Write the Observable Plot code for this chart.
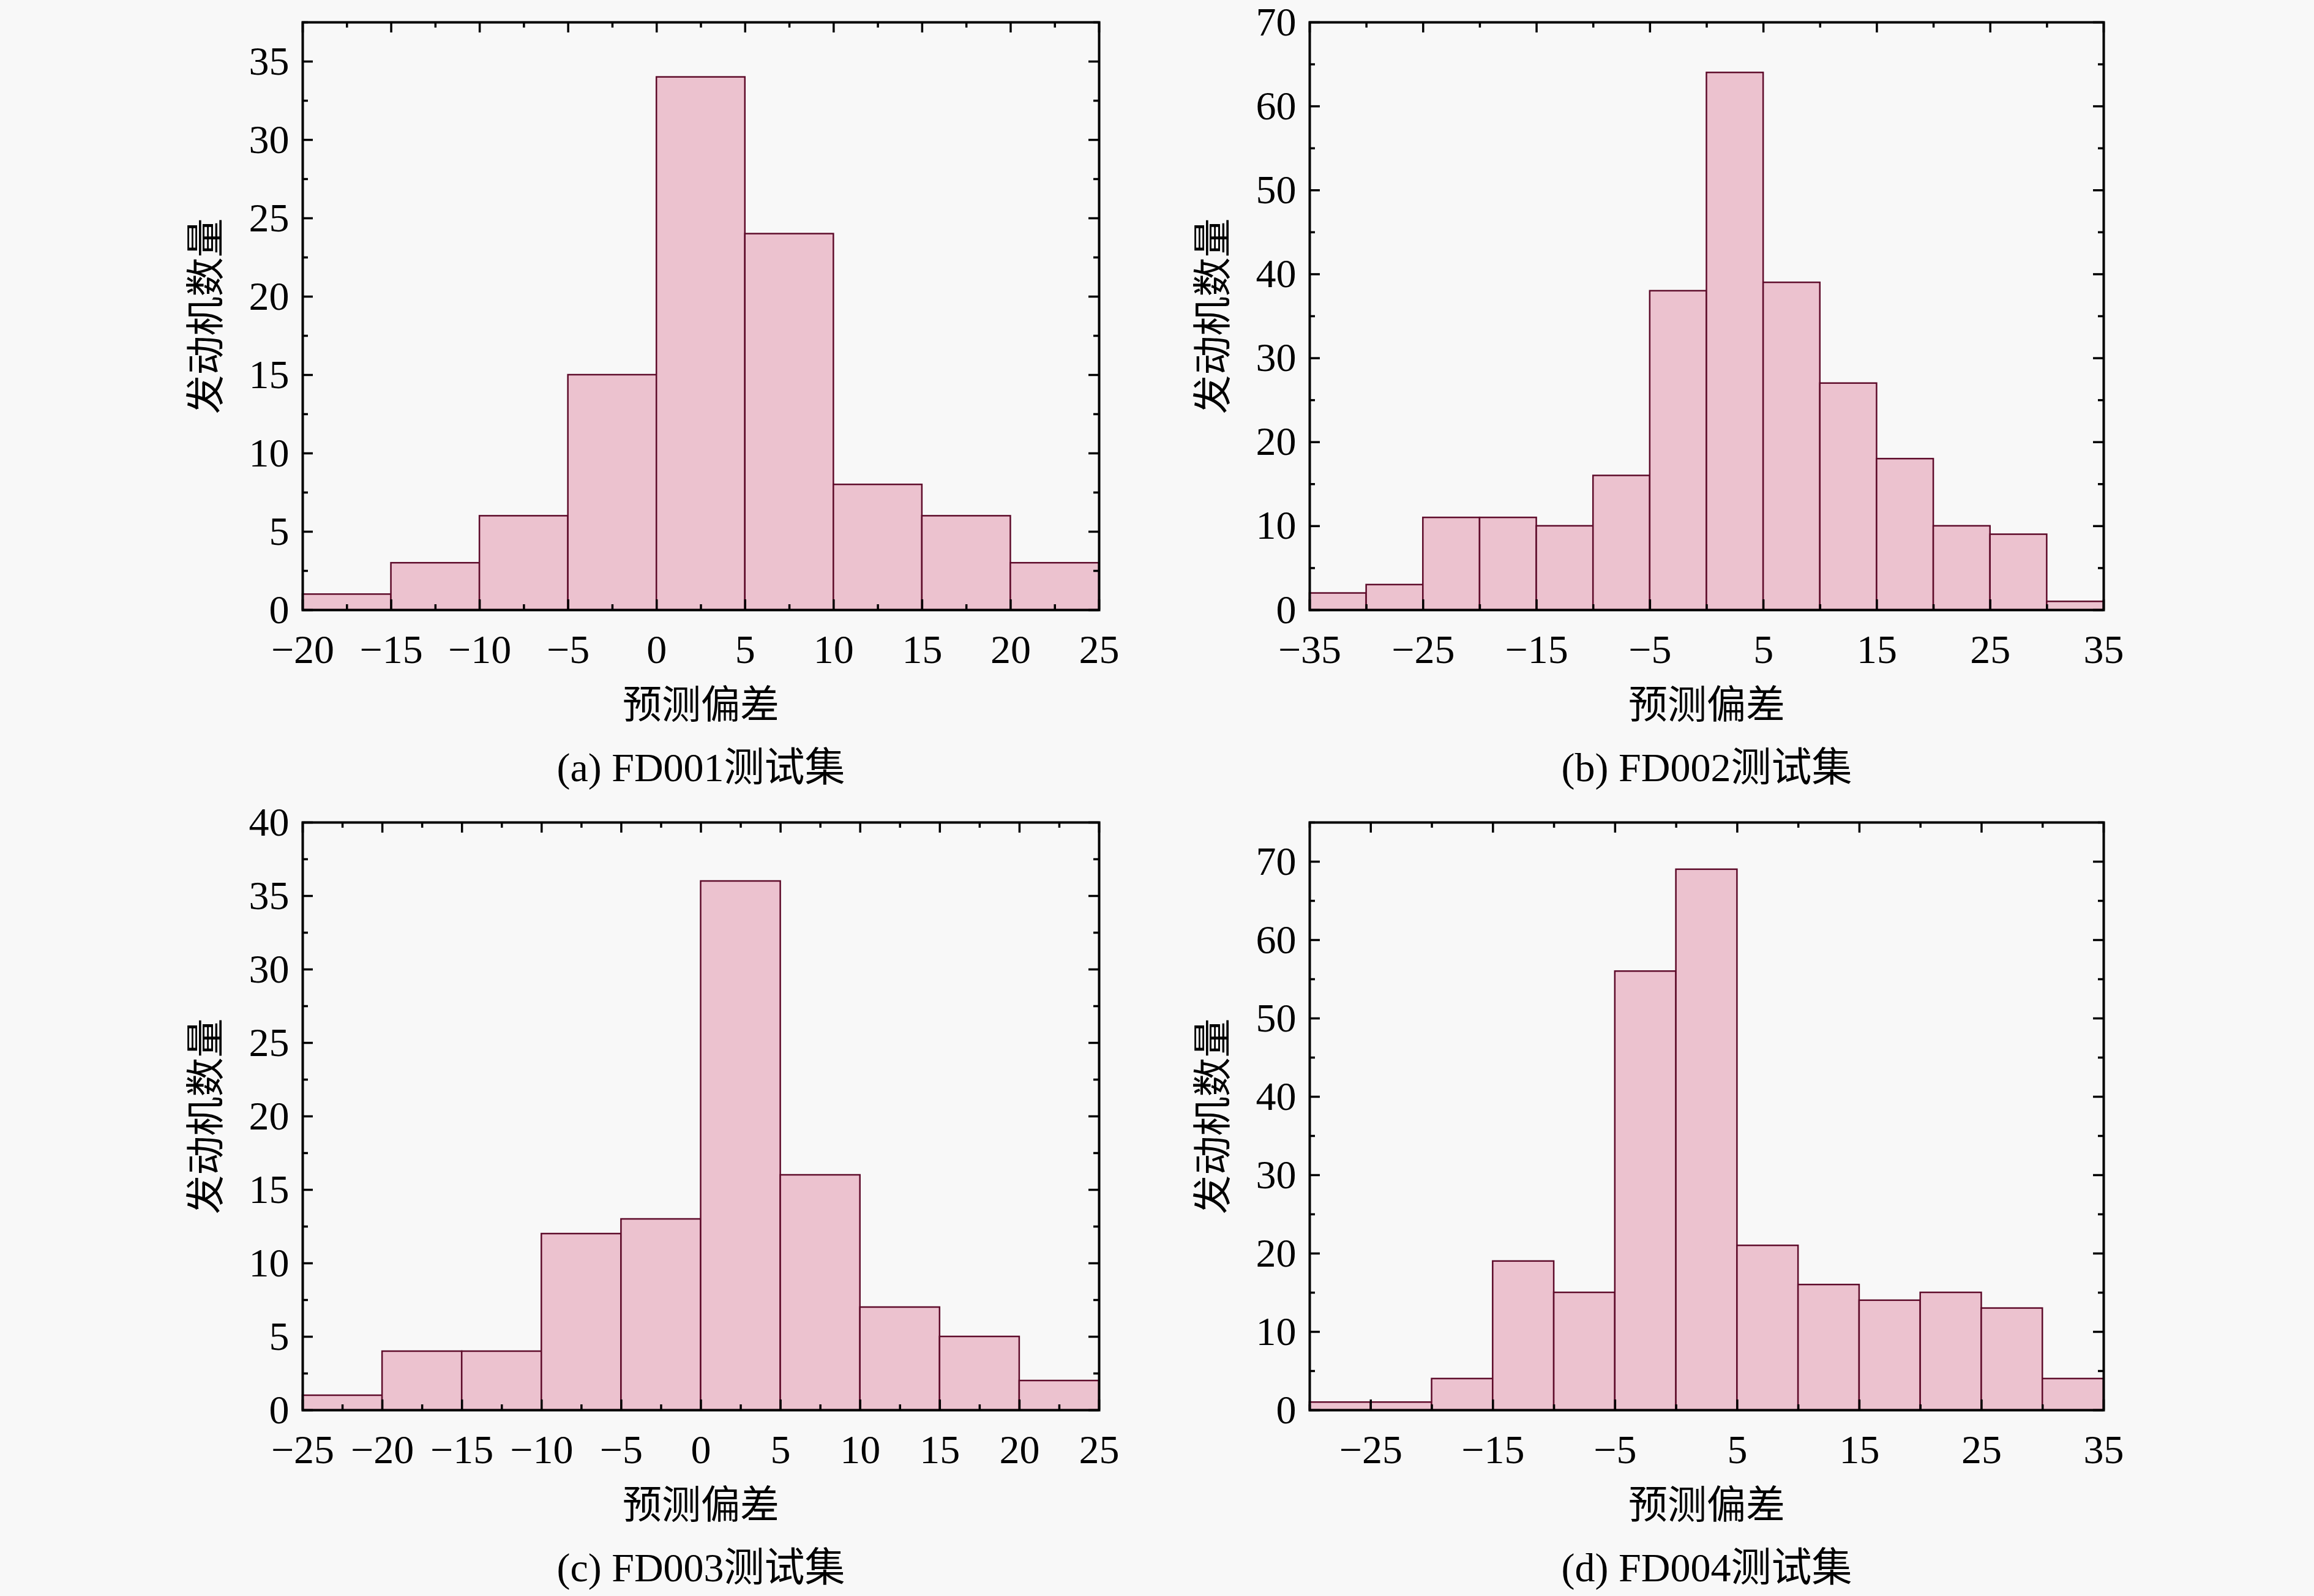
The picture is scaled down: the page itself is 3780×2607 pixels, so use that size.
<!DOCTYPE html>
<html>
<head>
<meta charset="utf-8">
<script src="https://cdn.jsdelivr.net/npm/d3@7"></script>
<script src="https://cdn.jsdelivr.net/npm/@observablehq/plot@0.6"></script>
<style>
  html, body { margin: 0; padding: 0; background: #f8f8f8; }
  #root { position: relative; width: 3780px; height: 2607px; background: #f8f8f8; overflow: hidden; }
  .panel { position: absolute; }
</style>
</head>
<body>
<div id="root"></div>
<script>
// ---- data ----
const binWidth = 5;
const fd001Lo = [-20, -15, -10, -5, 0, 5, 10, 15, 20];
const fd001Count = [1, 3, 6, 15, 34, 24, 8, 6, 3];
const fd002Lo = [-35, -30, -25, -20, -15, -10, -5, 0, 5, 10, 15, 20, 25, 30];
const fd002Count = [2, 3, 11, 11, 10, 16, 38, 64, 39, 27, 18, 10, 9, 1];
const fd003Lo = [-25, -20, -15, -10, -5, 0, 5, 10, 15, 20];
const fd003Count = [1, 4, 4, 12, 13, 36, 16, 7, 5, 2];
const fd004Lo = [-30, -25, -20, -15, -10, -5, 0, 5, 10, 15, 20, 25, 30];
const fd004Count = [1, 1, 4, 19, 15, 56, 69, 21, 16, 14, 15, 13, 4];

const xTicksA = [-20, -15, -10, -5, 0, 5, 10, 15, 20, 25];
const xTicksB = [-35, -25, -15, -5, 5, 15, 25, 35];
const xTicksC = [-25, -20, -15, -10, -5, 0, 5, 10, 15, 20, 25];
const xTicksD = [-25, -15, -5, 5, 15, 25, 35];
const yTicksA = [0, 5, 10, 15, 20, 25, 30, 35];
const yTicksB = [0, 10, 20, 30, 40, 50, 60, 70];
const yTicksC = [0, 5, 10, 15, 20, 25, 30, 35, 40];
const yTicksD = [0, 10, 20, 30, 40, 50, 60, 70];

const captions = ["(a) FD001测试集", "(b) FD002测试集", "(c) FD003测试集", "(d) FD004测试集"];
const xTitle = "预测偏差";
const yTitle = "发动机数量";

// ---- drawing ----
const FONT = '"Liberation Serif", "Times New Roman", "Noto Sans CJK SC", serif';
const FH = 960;
const ML = 260, MR = 40, MT = 36, MB = 300;
const MAJ = 17, MIN = 9;

function midpoints(t) {
  const out = [];
  for (let i = 0; i < t.length - 1; i++) out.push((t[i] + t[i + 1]) / 2);
  return out;
}

function panel(o) {
  const data = o.lo.map((lo, i) => ({lo, hi: lo + binWidth, n: o.counts[i]}));
  const FW = o.fw;
  const xMinor = o.xMinor, yMinor = o.yMinor;
  const tickStyle = {stroke: "#000", strokeWidth: 3.5};
  return Plot.plot({
    width: ML + FW + MR,
    height: MT + FH + MB,
    marginLeft: ML, marginRight: MR, marginTop: MT, marginBottom: MB,
    x: {domain: o.xDomain},
    y: {domain: o.yDomain},
    style: {fontFamily: FONT, fontSize: "66px", background: "transparent", color: "#000", overflow: "visible"},
    marks: [
      Plot.rectY(data, {x1: "lo", x2: "hi", y: "n", fill: "#ecc2cf", stroke: "#5e0b2a", strokeWidth: 2.5}),
      Plot.axisX({ticks: o.xTicks, tickSize: 0, tickPadding: 40, label: null, fontSize: 66, fontFamily: FONT}),
      Plot.axisY({ticks: o.yTicks, tickSize: 0, tickPadding: 22, label: null, fontSize: 66, fontFamily: FONT}),
      // inward ticks, bottom & top
      Plot.ruleX(o.xTicks, {x: d => d, insetTop: FH - MAJ, ...tickStyle}),
      Plot.ruleX(o.xTicks, {x: d => d, insetBottom: FH - MAJ, ...tickStyle}),
      Plot.ruleX(xMinor, {x: d => d, insetTop: FH - MIN, ...tickStyle}),
      Plot.ruleX(xMinor, {x: d => d, insetBottom: FH - MIN, ...tickStyle}),
      // inward ticks, left & right
      Plot.ruleY(o.yTicks, {y: d => d, insetRight: FW - MAJ, ...tickStyle}),
      Plot.ruleY(o.yTicks, {y: d => d, insetLeft: FW - MAJ, ...tickStyle}),
      Plot.ruleY(yMinor, {y: d => d, insetRight: FW - MIN, ...tickStyle}),
      Plot.ruleY(yMinor, {y: d => d, insetLeft: FW - MIN, ...tickStyle}),
      Plot.frame({stroke: "#000", strokeWidth: 4}),
      Plot.text([yTitle], {frameAnchor: "left", dx: -157, rotate: -90, textAnchor: "middle", lineAnchor: "middle", fontSize: 64, fontFamily: FONT, fill: "#000"}),
      Plot.text([xTitle], {frameAnchor: "bottom", dy: 156, textAnchor: "middle", lineAnchor: "middle", fontSize: 64, fontFamily: FONT, fill: "#000"}),
      Plot.text([o.caption], {frameAnchor: "bottom", dy: 258, textAnchor: "middle", lineAnchor: "middle", fontSize: 66, fontFamily: FONT, fill: "#000"})
    ]
  });
}

const specs = [
  {lo: fd001Lo, counts: fd001Count, xDomain: [-20, 25], yDomain: [0, 37.5], xTicks: xTicksA, yTicks: yTicksA,
   xMinor: midpoints(xTicksA), yMinor: [...midpoints(yTicksA), 37.5], caption: captions[0], fw: 1301, left: 494 - ML, top: 0},
  {lo: fd002Lo, counts: fd002Count, xDomain: [-35, 35], yDomain: [0, 70], xTicks: xTicksB, yTicks: yTicksB,
   xMinor: midpoints(xTicksB), yMinor: midpoints(yTicksB), caption: captions[1], fw: 1297, left: 2139 - ML, top: 0},
  {lo: fd003Lo, counts: fd003Count, xDomain: [-25, 25], yDomain: [0, 40], xTicks: xTicksC, yTicks: yTicksC,
   xMinor: midpoints(xTicksC), yMinor: midpoints(yTicksC), caption: captions[2], fw: 1301, left: 494 - ML, top: 1307},
  {lo: fd004Lo, counts: fd004Count, xDomain: [-30, 35], yDomain: [0, 75], xTicks: xTicksD, yTicks: yTicksD,
   xMinor: [-30, ...midpoints(xTicksD)], yMinor: [...midpoints(yTicksD), 75], caption: captions[3], fw: 1297, left: 2139 - ML, top: 1307}
];

const root = document.getElementById("root");
for (const s of specs) {
  const div = document.createElement("div");
  div.className = "panel";
  div.style.left = s.left + "px";
  div.style.top = s.top + "px";
  div.appendChild(panel(s));
  root.appendChild(div);
}
</script>
</body>
</html>
